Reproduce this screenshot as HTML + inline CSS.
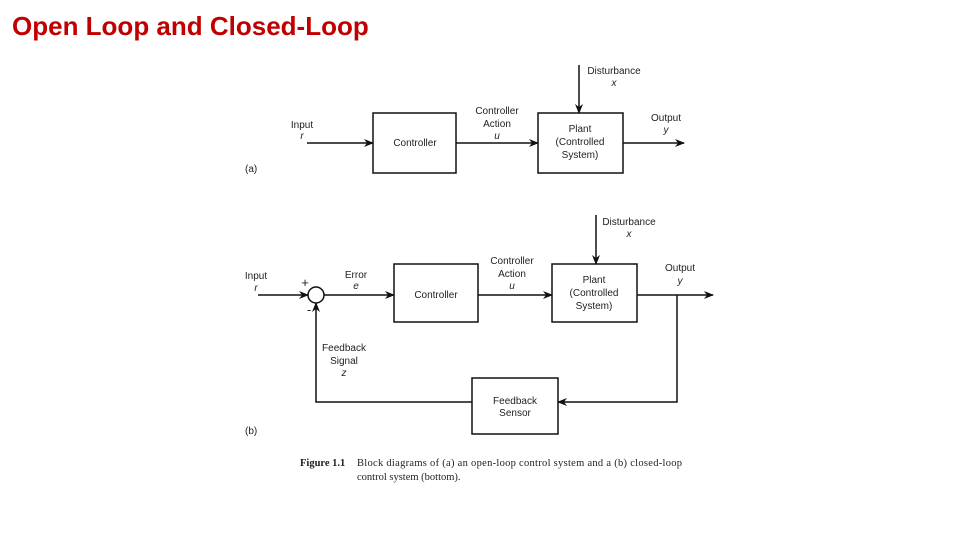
<!DOCTYPE html>
<html><head><style>
body{margin:0;width:960px;height:540px;background:#fff;overflow:hidden}
svg{position:absolute;left:0;top:0}
text{font-family:"Liberation Sans",sans-serif;font-size:10px;fill:#222}
.s{font-family:"Liberation Serif",serif;font-size:10.5px}
</style></head><body>
<svg width="960" height="540" viewBox="0 0 960 540">
<defs><marker id="a" markerWidth="10" markerHeight="8" refX="9" refY="4" orient="auto" markerUnits="userSpaceOnUse"><path d="M0,0 L10,4 L0,8 L3,4z" fill="#111"/></marker></defs>
<text x="12" y="35" style="font-size:26px;fill:#c00000;font-weight:bold">Open Loop and Closed-Loop</text>
<g stroke="#111" stroke-width="1.5" fill="none">
<rect x="373" y="113" width="83" height="60"/>
<rect x="538" y="113" width="85" height="60"/>
<line x1="307" y1="143" x2="373" y2="143" marker-end="url(#a)"/>
<line x1="456" y1="143" x2="538" y2="143" marker-end="url(#a)"/>
<line x1="623" y1="143" x2="684" y2="143" marker-end="url(#a)"/>
<line x1="579" y1="65" x2="579" y2="113" marker-end="url(#a)"/>
<rect x="394" y="264" width="84" height="58"/>
<rect x="552" y="264" width="85" height="58"/>
<rect x="472" y="378" width="86" height="56"/>
<circle cx="316" cy="295" r="8"/>
<line x1="258" y1="295" x2="308" y2="295" marker-end="url(#a)"/>
<line x1="324" y1="295" x2="394" y2="295" marker-end="url(#a)"/>
<line x1="478" y1="295" x2="552" y2="295" marker-end="url(#a)"/>
<line x1="637" y1="295" x2="713" y2="295" marker-end="url(#a)"/>
<line x1="596" y1="215" x2="596" y2="264" marker-end="url(#a)"/>
<polyline points="677,295 677,402 558,402" marker-end="url(#a)"/>
<polyline points="472,402 316,402 316,303" marker-end="url(#a)"/>
</g>
<g text-anchor="middle">
<text x="415" y="146">Controller</text>
<text x="580" y="132">Plant</text><text x="580" y="145">(Controlled</text><text x="580" y="158">System)</text>
<text x="302" y="128">Input</text><text x="302" y="139" font-style="italic">r</text>
<text x="497" y="114">Controller</text><text x="497" y="127">Action</text><text x="497" y="139" font-style="italic">u</text>
<text x="614" y="74">Disturbance</text><text x="614" y="86" font-style="italic">x</text>
<text x="666" y="121">Output</text><text x="666" y="133" font-style="italic">y</text>
<text x="436" y="298">Controller</text>
<text x="594" y="283">Plant</text><text x="594" y="296">(Controlled</text><text x="594" y="309">System)</text>
<text x="515" y="404">Feedback</text><text x="515" y="416">Sensor</text>
<text x="256" y="279">Input</text><text x="256" y="291" font-style="italic">r</text>
<text x="356" y="278">Error</text><text x="356" y="289" font-style="italic">e</text>
<text x="512" y="264">Controller</text><text x="512" y="277">Action</text><text x="512" y="289" font-style="italic">u</text>
<text x="629" y="225">Disturbance</text><text x="629" y="237" font-style="italic">x</text>
<text x="680" y="271">Output</text><text x="680" y="284" font-style="italic">y</text>
<text x="344" y="351">Feedback</text><text x="344" y="364">Signal</text><text x="344" y="376" font-style="italic">z</text>
<text x="305" y="287" style="font-size:13px">+</text>
<text x="309" y="314" style="font-size:13px">-</text>
</g>
<text x="245" y="172">(a)</text>
<text x="245" y="434">(b)</text>
<text x="300" y="466" class="s" font-weight="bold">Figure 1.1</text>
<text x="357" y="466" class="s" textLength="325">Block diagrams of (a) an open-loop control system and a (b) closed-loop</text>
<text x="357" y="480" class="s">control system (bottom).</text>
</svg>
</body></html>
